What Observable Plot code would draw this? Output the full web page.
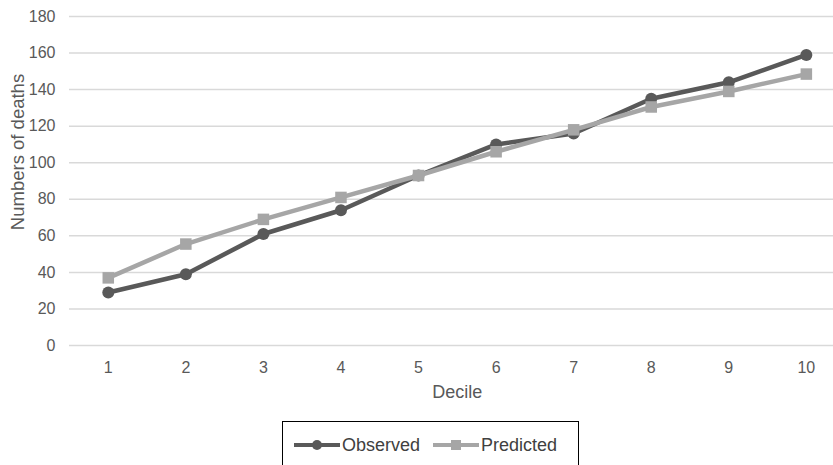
<!DOCTYPE html>
<html><head><meta charset="utf-8">
<script src="https://cdn.jsdelivr.net/npm/d3@7"></script>
<script src="https://cdn.jsdelivr.net/npm/@observablehq/plot@0.6"></script>
<style>
body{margin:0;background:#fff;font-family:"Liberation Sans",Arial,sans-serif;width:833px;height:465px;overflow:hidden;}
#legend{position:relative;margin-left:282px;margin-top:11px;width:295px;height:60px;border:1.5px solid #000;}
#legend .item{position:absolute;top:0;height:46px;display:flex;align-items:center;font-size:18px;color:#404040;}
#legend svg{display:block;margin-right:2px;}
</style></head><body>
<div id="chart"></div>
<div id="legend"></div>
<script>
const deciles = [1, 2, 3, 4, 5, 6, 7, 8, 9, 10];
const observed = [29, 39, 61, 74, 93, 110, 116, 135, 144, 159];
const predicted = [37, 55.5, 69, 81, 93, 106, 118, 130.5, 139, 148.5];
const yTicks = [0, 20, 40, 60, 80, 100, 120, 140, 160, 180];
const seriesNames = ["Observed", "Predicted"];
const seriesColors = ["#595959", "#a6a6a6"];
const xTitle = "Decile";
const yTitle = "Numbers of deaths";

const obsData = deciles.map((d, i) => ({decile: d, value: observed[i]}));
const predData = deciles.map((d, i) => ({decile: d, value: predicted[i]}));

const chart = Plot.plot({
  width: 833,
  height: 410,
  marginLeft: 69,
  marginRight: 0,
  marginTop: 16,
  marginBottom: 65,
  style: {fontFamily: '"Liberation Sans", Arial, sans-serif', fontSize: "16px", color: "#595959", background: "#fff"},
  x: {type: "linear", domain: [0.5, 10.35]},
  y: {domain: [0, 180]},
  marks: [
    Plot.ruleY(yTicks, {stroke: "#d9d9d9", strokeWidth: 1.5}),
    Plot.axisY({ticks: yTicks, tickSize: 0, tickPadding: 14, label: null, fontSize: 16, color: "#595959"}),
    Plot.axisX({ticks: deciles, tickSize: 0, tickPadding: 16, label: null, fontSize: 16, color: "#595959", tickFormat: d => String(d)}),
    Plot.text([yTitle], {frameAnchor: "left", textAnchor: "middle", lineAnchor: "middle", rotate: -90, dx: -51, dy: -29, fontSize: 18.5, fill: "#595959"}),
    Plot.text([5.5], {x: d => d, text: () => xTitle, frameAnchor: "bottom", lineAnchor: "middle", dy: 47, fontSize: 18, fill: "#595959"}),
    Plot.line(obsData, {x: "decile", y: "value", stroke: seriesColors[0], strokeWidth: 4.5}),
    Plot.dot(obsData, {x: "decile", y: "value", r: 6, fill: seriesColors[0], symbol: "circle"}),
    Plot.line(predData, {x: "decile", y: "value", stroke: seriesColors[1], strokeWidth: 4.5}),
    Plot.dot(predData, {x: "decile", y: "value", r: 6.5, fill: seriesColors[1], symbol: "square"})
  ]
});
document.getElementById("chart").appendChild(chart);

// Legend
const legend = document.getElementById("legend");
const lefts = [11, 150];
seriesNames.forEach((name, i) => {
  const item = document.createElement("div");
  item.className = "item";
  item.style.left = lefts[i] + "px";
  const sw = i === 0
    ? `<svg width="46" height="14"><line x1="0" y1="7" x2="46" y2="7" stroke="${seriesColors[i]}" stroke-width="4"/><circle cx="23" cy="7" r="5" fill="${seriesColors[i]}"/></svg>`
    : `<svg width="46" height="14"><line x1="0" y1="7" x2="46" y2="7" stroke="${seriesColors[i]}" stroke-width="4"/><rect x="18" y="2" width="10" height="10" fill="${seriesColors[i]}"/></svg>`;
  item.innerHTML = sw + `<span>${name}</span>`;
  legend.appendChild(item);
});
</script>
</body></html>
